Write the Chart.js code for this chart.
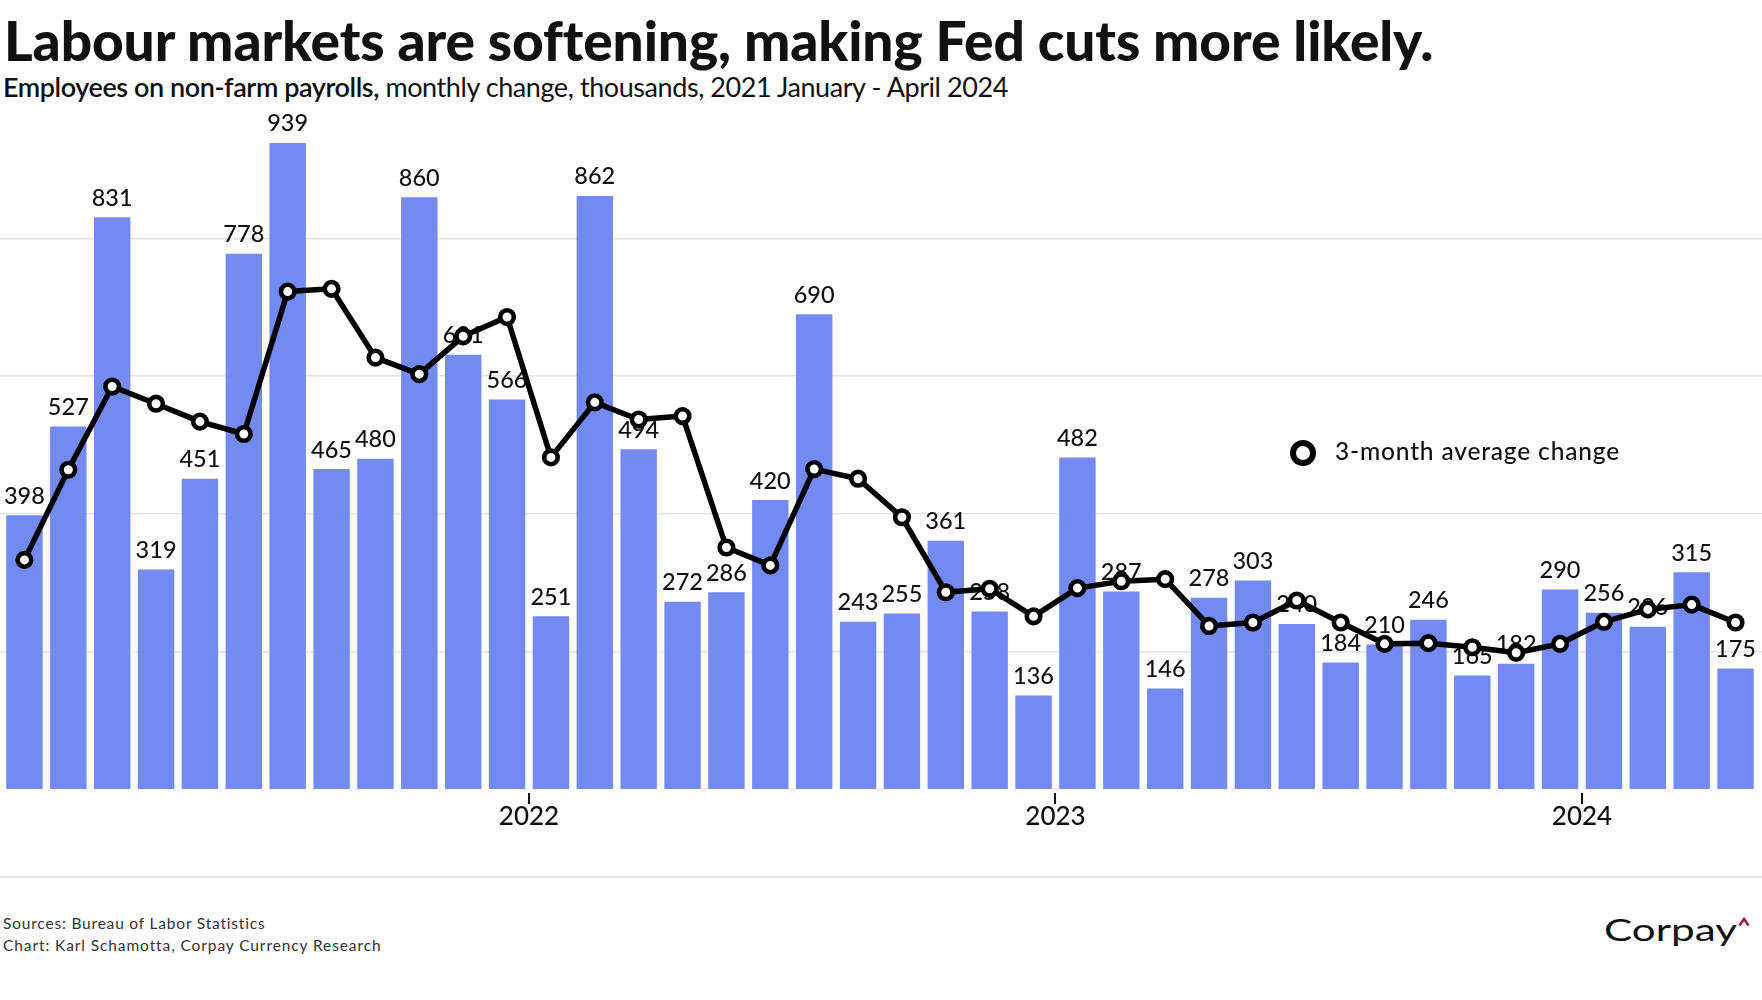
<!DOCTYPE html>
<html>
<head>
<meta charset="utf-8">
<script src="https://cdn.jsdelivr.net/npm/chart.js@4.4.1/dist/chart.umd.min.js"></script>
<style>
html,body{margin:0;padding:0;background:#fff;}
body{width:1762px;height:1000px;position:relative;overflow:hidden;font-family:Lato,"Open Sans",sans-serif;color:#111;}
.t{position:absolute;white-space:nowrap;line-height:1;}
#title{left:4px;font-weight:900;font-size:55px;}
#sub{left:3px;font-size:27px;}
#sub b{font-weight:600;}
#wrap{position:absolute;left:0;top:0;width:1762px;height:860px;}
#dot{position:absolute;left:1290px;top:440px;width:26px;height:26px;box-sizing:border-box;border:6.5px solid #000;border-radius:50%;background:#fff;}
#leg{left:1335px;font-size:24.5px;font-weight:500;}
#rule{position:absolute;left:0;top:876px;width:1762px;height:2px;background:#e6e6e6;}
.src{left:3px;font-size:15.5px;color:#333;}
#logo{left:1604px;font-size:30px;color:#111;transform-origin:0 0;}
#caret{position:absolute;left:1738px;top:917px;}
</style>
</head>
<body>
<div id="title" class="t">Labour markets are softening, making Fed cuts more likely.</div>
<div id="sub" class="t"><b>Employees on non-farm payrolls,</b> monthly change, thousands, 2021 January - April 2024</div>
<div id="wrap"><canvas id="c" width="1762" height="860"></canvas></div>
<div id="dot"></div>
<div id="leg" class="t">3-month average change</div>
<div id="rule"></div>
<div id="src1" class="t src">Sources: Bureau of Labor Statistics</div>
<div id="src2" class="t src">Chart: Karl Schamotta, Corpay Currency Research</div>
<div id="logo" class="t">Corpay</div>
<svg id="caret" width="12" height="10"><polyline points="1.5,8.5 6,2 10.5,8.5" fill="none" stroke="#a51c3c" stroke-width="2.6"/></svg>
<script>
const months = ['2021-01','2021-02','2021-03','2021-04','2021-05','2021-06','2021-07','2021-08','2021-09','2021-10','2021-11','2021-12',
'2022-01','2022-02','2022-03','2022-04','2022-05','2022-06','2022-07','2022-08','2022-09','2022-10','2022-11','2022-12',
'2023-01','2023-02','2023-03','2023-04','2023-05','2023-06','2023-07','2023-08','2023-09','2023-10','2023-11','2023-12',
'2024-01','2024-02','2024-03','2024-04'];
const payrolls = [398,527,831,319,451,778,939,465,480,860,631,566,
251,862,494,272,286,420,690,243,255,361,258,136,
482,287,146,278,303,240,184,210,246,165,182,290,
256,236,315,175];
const avg3m = [333,464,585,560,534,516,723,727,627,603,658,686,
482,562,537,542,351,325,465,451,395,286,291,251,
292,302,305,237,242,274,242,211,212,206,198,211,
243,261,268,242];
const yearTicks = [12,24,36];
const yearLabels = ['2022','2023','2024'];
const gridValues = [200,400,600,800];

// place a text line by its baseline and stretch it to a given width
function place(id, baseline, width, stretch){
  let el=document.getElementById(id);
  let fs=parseFloat(getComputedStyle(el).fontSize);
  el.style.top=(baseline-0.887*fs)+'px';
  let w=el.getBoundingClientRect().width;
  if(stretch) el.style.transform='scaleX('+(width/w)+')';
  else el.style.letterSpacing=((width-w)/el.textContent.length)+'px';
}
place('title',62,1428);
place('sub',97,1005);
place('leg',461,285);
place('src1',929.5,263);
place('src2',951.5,378);
place('logo',941,133,true);

const barLabels={
  id:'barLabels',
  afterDatasetDraw(chart,args){
    if(args.index!==1) return;
    let ctx=chart.ctx;
    ctx.save();
    ctx.font='500 23.5px Lato';
    ctx.fillStyle='#111';
    ctx.textAlign='center';
    ctx.textBaseline='alphabetic';
    args.meta.data.forEach((bar,i)=>ctx.fillText(payrolls[i],bar.x,bar.y-11.5));
    ctx.restore();
  },
  afterDraw(chart){
    // year tick marks, a little below the bars
    let ctx=chart.ctx, sx=chart.scales.x, b=chart.scales.y.getPixelForValue(0);
    ctx.save();
    ctx.fillStyle='#111';
    yearTicks.forEach(v=>{
      let px=Math.round(sx.getPixelForValue(v));
      ctx.fillRect(px-1,b+4,2,11);
    });
    ctx.restore();
  }
};

new Chart(document.getElementById('c'),{
  type:'bar',
  data:{
    datasets:[{
      type:'line',
      label:'3-month average change',
      data:avg3m.map((v,i)=>({x:i+0.5,y:v})),
      borderColor:'#000',
      borderWidth:5.5,
      borderJoinStyle:'round',
      tension:0,
      pointRadius:6.8,
      pointBorderWidth:4.6,
      pointBackgroundColor:'#fff',
      pointBorderColor:'#000',
      order:0
    },{
      type:'bar',
      label:'Monthly change',
      data:payrolls.map((v,i)=>({x:i+0.5,y:v})),
      backgroundColor:'#728af2',
      barPercentage:0.83,
      categoryPercentage:1,
      order:1
    }]
  },
  options:{
    responsive:false,
    animation:false,
    layout:{autoPadding:false,padding:{top:101,left:0,right:0,bottom:0}},
    plugins:{legend:{display:false},tooltip:{enabled:false}},
    scales:{
      x:{
        type:'linear',
        offset:false,
        min:-0.057,max:40.103,
        afterBuildTicks:s=>{s.ticks=yearTicks.map(v=>({value:v}));},
        afterFit:s=>{s.height=71;},
        border:{display:false},
        grid:{display:false,drawTicks:false,offset:false},
        ticks:{autoSkip:false,maxRotation:0,padding:15,color:'#111',font:{family:'Lato',size:26,weight:500,lineHeight:1},
          callback:v=>yearLabels[yearTicks.indexOf(v)]}
      },
      y:{
        min:0,max:1000,
        afterBuildTicks:s=>{s.ticks=gridValues.map(v=>({value:v}));},
        afterFit:s=>{s.width=0;},
        border:{display:false},
        grid:{color:'#e3e3e3',lineWidth:1.5,drawTicks:false},
        ticks:{display:false}
      }
    }
  },
  plugins:[barLabels]
});
</script>
</body>
</html>
